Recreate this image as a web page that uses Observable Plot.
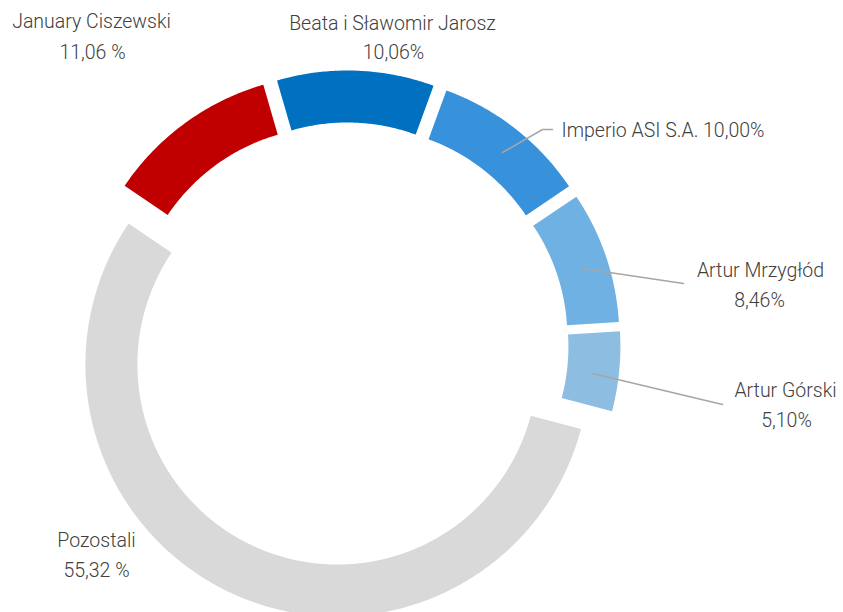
<!DOCTYPE html>
<html>
<head>
<meta charset="utf-8">
<script src="https://cdn.jsdelivr.net/npm/d3@7"></script>
<script src="https://cdn.jsdelivr.net/npm/@observablehq/plot@0.6"></script>
<style>
  html, body { margin: 0; padding: 0; background: #fff; }
  #chart { width: 843px; height: 612px; overflow: hidden; }
</style>
</head>
<body>
<div id="chart"></div>
<script>
// ---- data ----
const names = ["January Ciszewski", "Beata i Sławomir Jarosz", "Imperio ASI S.A.", "Artur Mrzygłód", "Artur Górski", "Pozostali"];
const shares = [11.06, 10.06, 10.00, 8.46, 5.10, 55.32];
const shareLabels = ["11,06 %", "10,06%", "10,00%", "8,46%", "5,10%", "55,32 %"];
const colors = ["#C00000", "#0070C0", "#3892DB", "#6FB1E3", "#8DBEE2", "#D9D9D9"];

// ---- layout (geometry, not data) ----
const W = 843, H = 612;
const CX = 346, CY = 344, R_OUT = 252, R_IN = 200, EXPLODE = 22, START_DEG = -56;

// label placement: [lines with centres], optional leader polyline
const labelLayout = [
  {lines: [[91, 21, "middle", 0], [92, 52, "middle", 1]]},
  {lines: [[392, 23, "middle", 0], [393, 52, "middle", 1]]},
  {lines: [[561, 130, "start", 2]], leader: [[502, 152], [542, 129], [552, 129]]},
  {lines: [[760, 270, "middle", 0], [759, 300, "middle", 1]], leader: [[582, 268], [683, 283]]},
  {lines: [[785, 390, "middle", 0], [786, 420, "middle", 1]], leader: [[592, 373], [722, 404]]},
  {lines: [[96, 540, "middle", 0], [96, 570, "middle", 1]]}
];

// ---- build slice polygons from the values ----
const total = d3.sum(shares);
const rad = Math.PI / 180;
const slicePts = [];
let acc = START_DEG;
shares.forEach((v, i) => {
  const span = v / total * 360;
  const a0 = acc, a1 = acc + span;
  acc = a1;
  const mid = (a0 + a1) / 2 * rad;
  const ox = EXPLODE * Math.sin(mid), oy = -EXPLODE * Math.cos(mid);
  const n = Math.max(8, Math.ceil(span * 2));
  for (let k = 0; k <= n; k++) {
    const a = (a0 + (a1 - a0) * k / n) * rad;
    slicePts.push({name: names[i], color: colors[i], x: CX + ox + R_OUT * Math.sin(a), y: CY + oy - R_OUT * Math.cos(a)});
  }
  for (let k = n; k >= 0; k--) {
    const a = (a0 + (a1 - a0) * k / n) * rad;
    slicePts.push({name: names[i], color: colors[i], x: CX + ox + R_IN * Math.sin(a), y: CY + oy - R_IN * Math.cos(a)});
  }
});

// labels
const textRows = [];
const leaderPts = [];
labelLayout.forEach((L, i) => {
  L.lines.forEach(([x, y, anchor, kind]) => {
    const t = kind === 0 ? names[i] : kind === 1 ? shareLabels[i] : names[i] + " " + shareLabels[i];
    textRows.push({x, y, anchor, t});
  });
  if (L.leader) L.leader.forEach(([x, y]) => leaderPts.push({name: names[i], x, y}));
});

const chart = Plot.plot({
  width: W,
  height: H,
  margin: 0,
  x: {domain: [0, W], range: [0, W], axis: null},
  y: {domain: [0, H], range: [0, H], axis: null},
  style: {fontFamily: "Roboto, 'Open Sans', sans-serif", background: "#fff"},
  marks: [
    Plot.line(slicePts, {x: "x", y: "y", z: "name", fill: "color", stroke: null, curve: "linear-closed"}),
    Plot.line(leaderPts, {x: "x", y: "y", z: "name", stroke: "#A6A6A6", strokeWidth: 1.5}),
    Plot.text(textRows.filter(d => d.anchor === "middle"), {x: "x", y: "y", text: "t", textAnchor: "middle", fontSize: 19.5, fontWeight: 300, fill: "#404040"}),
    Plot.text(textRows.filter(d => d.anchor === "start"), {x: "x", y: "y", text: "t", textAnchor: "start", fontSize: 19.5, fontWeight: 300, fill: "#404040"})
  ]
});
document.getElementById("chart").appendChild(chart);
</script>
</body>
</html>
